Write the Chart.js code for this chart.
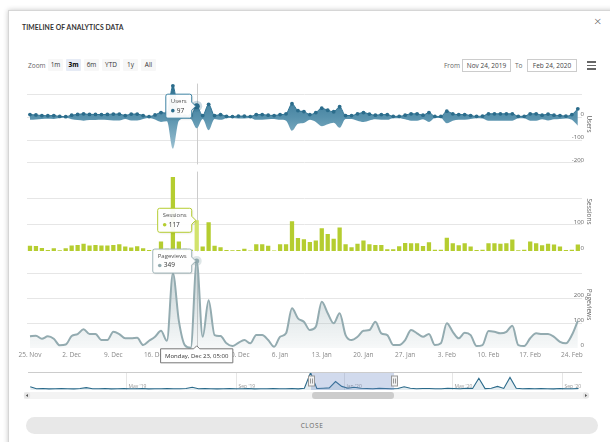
<!DOCTYPE html>
<html><head><meta charset="utf-8">
<script src="https://cdn.jsdelivr.net/npm/chart.js@4.4.1/dist/chart.umd.min.js"></script>
<style>
html,body{margin:0;padding:0;background:#fff;width:610px;height:442px;overflow:hidden;font-family:"Open Sans",Arial,sans-serif;}
#modal{position:absolute;left:8px;top:10px;width:640px;height:470px;border:1px solid #d6d6d6;box-shadow:0 0 5px rgba(0,0,0,0.22);background:#fff;}
.t{position:absolute;white-space:nowrap;}
canvas{position:absolute;}
#title{left:22px;top:23px;font-family:Lato,"Open Sans",sans-serif;font-weight:700;font-size:6.8px;color:#333;letter-spacing:0.1px;}
#xclose{left:594px;top:12px;font-size:13px;color:#555;font-weight:300;}
.lbl{font-size:6.5px;color:#666;top:61px;}
.btn{top:59px;height:12px;line-height:12px;font-size:6.5px;color:#333;background:#f7f7f7;text-align:center;border-radius:1px;}
.btn.sel{background:#e6ebf5;font-weight:700;color:#000;}
.inp{top:59px;height:11px;line-height:11px;font-size:6.5px;color:#444;border:1px solid #ccc;text-align:center;background:#fff;}
.ham{left:587px;width:9px;height:1.5px;background:#666;}
#closebtn{left:26px;top:417px;width:572px;height:17px;line-height:17px;border-radius:9px;background:#e8e8e8;text-align:center;font-size:6.5px;letter-spacing:0.6px;color:#666;}
</style></head>
<body>
<div id="modal"></div>
<div class="t" id="title">TIMELINE OF ANALYTICS DATA</div>
<div class="t" id="xclose">×</div>
<div class="t lbl" style="left:28px;">Zoom</div>
<div class="t btn" style="left:48px;width:15px;">1m</div>
<div class="t btn sel" style="left:66px;width:15px;">3m</div>
<div class="t btn" style="left:84px;width:15px;">6m</div>
<div class="t btn" style="left:102px;width:18px;">YTD</div>
<div class="t btn" style="left:123px;width:15px;">1y</div>
<div class="t btn" style="left:141px;width:15px;">All</div>
<div class="t lbl" style="left:444px;">From</div>
<div class="t inp" style="left:462px;width:47px;">Nov 24, 2019</div>
<div class="t lbl" style="left:515px;">To</div>
<div class="t inp" style="left:527px;width:48px;">Feb 24, 2020</div>
<div class="t ham" style="top:61px;"></div>
<div class="t ham" style="top:64.5px;"></div>
<div class="t ham" style="top:68px;"></div>
<canvas id="cUsers" width="594" height="92" style="left:0;top:78px;width:594px;height:92px;"></canvas>
<canvas id="cSessions" width="594" height="91" style="left:0;top:166px;width:594px;height:91px;"></canvas>
<canvas id="cPage" width="594" height="125" style="left:0;top:240px;width:594px;height:125px;"></canvas>
<canvas id="cNav" width="610" height="32" style="left:0;top:370px;width:610px;height:32px;"></canvas>
<div class="t" id="closebtn">CLOSE</div>
<script>
// ---------------- DATA ----------------
// daily values, day 0 = 25 Nov 2019 ... day 92 = 25 Feb 2020
const users = [23,20,15,13,15,7,5,18,25,30,25,25,23,25,28,28,15,28,28,15,6,20,41,35,275,30,10,15,97,15,113,15,23,8,6,10,10,6,23,23,18,15,23,30,118,58,50,23,41,79,61,48,92,15,15,30,41,28,18,23,23,8,8,18,30,30,18,41,7,7,53,30,23,23,15,8,10,30,30,30,30,30,8,8,30,30,18,28,18,15,10,23,74];
const sessions = [21,20,13,5,12,4,12,22,24,29,22,24,22,22,24,27,18,15,19,12,5,8,37,10,280,37,10,6,117,18,110,21,16,5,4,5,10,3,27,27,21,3,27,27,113,50,46,35,41,87,65,48,90,27,16,29,41,27,24,24,8,8,19,32,31,31,20,34,6,6,51,31,23,31,18,5,6,31,31,29,31,45,4,6,37,31,23,29,26,18,5,6,26];
const pageviews = [48,50,38,48,38,12,15,49,57,76,57,57,33,33,66,57,40,40,42,13,30,46,70,30,300,110,13,2,349,46,192,53,49,20,9,22,33,20,53,53,33,6,46,60,160,120,106,73,86,186,140,100,140,53,33,46,70,73,106,60,53,13,13,33,73,60,46,57,13,20,100,66,40,62,53,9,13,69,66,60,66,90,13,9,40,60,57,57,46,26,20,53,110];
const tickDays = [0,7,14,21,28,35,42,49,56,63,70,77,84,91];
const tickLabels = ['25. Nov','2. Dec','9. Dec','16. Dec','23. Dec','30. Dec','6. Jan','13. Jan','20. Jan','27. Jan','3. Feb','10. Feb','17. Feb','24. Feb'];
const usersTicks = [-200,-100,0,100];
const usersTickLabels = ['-200','-100','0',''];
const sessionsTicks = [0,100,200,300];
const sessionsTickLabels = ['0','100','',''];
const pageviewsTicks = [0,100,200,300];
const pageviewsTickLabels = ['0','100','200',''];
const hoverIndex = 28;
const hoverLabel = 'Monday, Dec 23, 05:00';
// navigator: weekly samples, first sample at day -316
const navStartDay = -316, navStepDays = 7;
const navValues = [55,20,24,18,22,26,20,18,24,40,20,22,26,18,20,24,22,20,26,18,22,20,24,20,22,26,45,20,24,22,18,20,26,22,20,24,18,22,20,26,22,20,24,18,30,290,25,30,35,140,60,30,45,28,25,22,30,24,20,26,55,28,22,24,26,20,22,28,24,20,30,26,195,24,30,60,26,210,28,22,24,20,26,22,18,24,20,22,26];
const navTickDays = [-208,-85,37,158,281];
const navTickLabels = ["May '19","Sep '19","Jan '20","May '20","Sep '20"];
const viewMin = -0.5, viewMax = 92.7;

// ---------------- STYLE ----------------
Chart.defaults.font.family = "'Open Sans', Arial, sans-serif";
Chart.defaults.animation = false;
const GRID = '#e6e6e6';
const USERS_C = '#2b6c8b', SESS_C = '#b5cd30', PV_C = '#93abb0';
const pts = arr => arr.map((v,i)=>({x:i,y:v}));

function callout(ctx, px, py, color, name, value, dotColor){
  ctx.save();
  ctx.font = '6px "Open Sans"';
  const w1 = ctx.measureText(name).width;
  ctx.font = '6.5px "Open Sans"';
  const w2 = ctx.measureText(String(value)).width + 6;
  const w = Math.max(w1, w2) + 10, h = 24, gap = 5, r = 2;
  const x2 = px - gap, x1 = x2 - w, y1 = py - h/2, y2 = py + h/2;
  ctx.beginPath();
  ctx.moveTo(x1+r, y1); ctx.lineTo(x2-r, y1); ctx.quadraticCurveTo(x2, y1, x2, y1+r);
  ctx.lineTo(x2, py-4); ctx.lineTo(px-1, py); ctx.lineTo(x2, py+4);
  ctx.lineTo(x2, y2-r); ctx.quadraticCurveTo(x2, y2, x2-r, y2);
  ctx.lineTo(x1+r, y2); ctx.quadraticCurveTo(x1, y2, x1, y2-r);
  ctx.lineTo(x1, y1+r); ctx.quadraticCurveTo(x1, y1, x1+r, y1);
  ctx.closePath();
  ctx.shadowColor = 'rgba(0,0,0,0.12)'; ctx.shadowOffsetX = 1; ctx.shadowOffsetY = 1; ctx.shadowBlur = 2;
  ctx.fillStyle = 'rgba(255,255,255,0.95)'; ctx.fill();
  ctx.shadowColor = 'transparent';
  ctx.strokeStyle = color; ctx.lineWidth = 1; ctx.stroke();
  ctx.textBaseline = 'middle'; ctx.textAlign = 'left';
  ctx.fillStyle = '#555'; ctx.font = '6px "Open Sans"';
  ctx.fillText(name, x1+5, y1+7.5);
  ctx.beginPath(); ctx.arc(x1+7, y1+16.5, 1.8, 0, Math.PI*2); ctx.fillStyle = dotColor; ctx.fill();
  ctx.fillStyle = '#333'; ctx.font = '6.5px "Open Sans"';
  ctx.fillText(String(value), x1+11, y1+16.5);
  ctx.restore();
}
function crosshair(chart){
  const x = chart.scales.x.getPixelForValue(hoverIndex);
  const ca = chart.chartArea, ctx = chart.ctx;
  ctx.save(); ctx.strokeStyle = '#cccccc'; ctx.lineWidth = 1;
  ctx.beginPath(); ctx.moveTo(Math.round(x)+0.5, ca.top); ctx.lineTo(Math.round(x)+0.5, ca.bottom); ctx.stroke();
  ctx.restore();
}
function yAxis(ticks, labels, title, min, max, hideGrid){
  return {
    type:'linear', position:'right', min:min, max:max,
    afterBuildTicks: a => { a.ticks = ticks.map(v=>({value:v})); },
    afterFit: a => { a.width = 12; },
    grid:{ color: c => (c.tick && hideGrid.includes(c.tick.value)) ? 'rgba(0,0,0,0)' : GRID, drawTicks:false, lineWidth:1 },
    border:{display:false},
    ticks:{ mirror:true, padding:2, labelOffset:-3, color:'#666', font:{size:6}, callback:(v,i)=>labels[i] },
    title:{ display:true, text:title, color:'#666', font:{size:6.5}, padding:{top:1.5, bottom:0} }
  };
}
const hiddenX = { type:'linear', min:viewMin, max:viewMax, display:false, offset:false };

// ---------------- USERS (streamgraph) ----------------
new Chart(document.getElementById('cUsers'), {
  type:'line',
  data:{ datasets:[
    { data: users.map((v,i)=>({x:i,y:-v/2})), borderWidth:0, pointRadius:0, fill:false, cubicInterpolationMode:'monotone' },
    { data: users.map((v,i)=>({x:i,y:v/2})), fill:'-1', cubicInterpolationMode:'monotone',
      borderColor:'#2f7393', borderWidth:1,
      pointRadius: c => c.dataIndex===hoverIndex ? 3 : 1.9, pointBackgroundColor:USERS_C, pointBorderWidth:0,
      backgroundColor: c => { const ch=c.chart, ca=ch.chartArea; if(!ca) return '#5a95b0';
        const g = ch.ctx.createLinearGradient(0, ca.top, 0, ca.bottom);
        g.addColorStop(0,'#2c6d8d'); g.addColorStop(0.42,'#5892ad'); g.addColorStop(1,'#bcd7e3'); return g; } }
  ]},
  options:{ responsive:false, devicePixelRatio:1, events:[],
    layout:{ padding:{left:27, right:0, top:0, bottom:0} },
    plugins:{ legend:{display:false}, tooltip:{enabled:false} },
    scales:{ x: hiddenX, y: yAxis(usersTicks, usersTickLabels, 'Users', -206.5, 147.3, []) }
  },
  plugins:[{ id:'uhover',
    beforeDatasetsDraw: ch => crosshair(ch),
    afterDraw: ch => { const el = ch.getDatasetMeta(1).data[hoverIndex]; const ctx = ch.ctx;
      ctx.save(); ctx.beginPath(); ctx.arc(el.x, el.y, 5.5, 0, Math.PI*2); ctx.fillStyle='rgba(43,108,139,0.25)'; ctx.fill();
      ctx.beginPath(); ctx.arc(el.x, el.y, 2.5, 0, Math.PI*2); ctx.fillStyle=USERS_C; ctx.fill(); ctx.restore();
      callout(ctx, el.x, el.y, '#3f84a4', 'Users', users[hoverIndex], USERS_C); }
  }]
});

// ---------------- SESSIONS (columns) ----------------
new Chart(document.getElementById('cSessions'), {
  type:'bar',
  data:{ datasets:[{ data: pts(sessions), backgroundColor: c => c.dataIndex===hoverIndex ? '#d2e36c' : SESS_C, borderWidth:0, barPercentage:0.92, categoryPercentage:0.78 }]},
  options:{ responsive:false, devicePixelRatio:1, events:[],
    layout:{ padding:{left:27, right:0, top:0, bottom:0} },
    plugins:{ legend:{display:false}, tooltip:{enabled:false} },
    scales:{ x: hiddenX, y: yAxis(sessionsTicks, sessionsTickLabels, 'Sessions', 0, 300, [0,300]) }
  },
  plugins:[{ id:'shover',
    beforeDatasetsDraw: ch => crosshair(ch),
    afterDraw: ch => { const el = ch.getDatasetMeta(0).data[hoverIndex];
      callout(ch.ctx, el.x, el.y, '#b5cd30', 'Sessions', sessions[hoverIndex], SESS_C); }
  }]
});

// ---------------- PAGEVIEWS (spline area) ----------------
new Chart(document.getElementById('cPage'), {
  type:'line',
  data:{ datasets:[{ data: pts(pageviews), cubicInterpolationMode:'monotone', borderColor:PV_C, borderWidth:2,
    pointRadius: c => c.dataIndex===hoverIndex ? 2.5 : 0, pointBackgroundColor:PV_C, pointBorderWidth:0, clip:6,
    fill:'origin',
    backgroundColor: c => { const ch=c.chart, ca=ch.chartArea; if(!ca) return 'rgba(147,171,176,0.2)';
      const g = ch.ctx.createLinearGradient(0, ca.top, 0, ca.bottom);
      g.addColorStop(0,'rgba(147,171,176,0.55)'); g.addColorStop(1,'rgba(147,171,176,0.08)'); return g; } }]},
  options:{ responsive:false, devicePixelRatio:1, events:[],
    layout:{ padding:{left:27, right:0, top:20.8, bottom:0} },
    plugins:{ legend:{display:false}, tooltip:{enabled:false} },
    scales:{
      x:{ type:'linear', min:viewMin, max:viewMax, offset:false,
        afterBuildTicks: a => { a.ticks = tickDays.map(v=>({value:v})); },
        afterFit: a => { a.height = 16.7; },
        grid:{display:false, drawTicks:false}, border:{display:false},
        ticks:{ autoSkip:false, maxRotation:0, padding:3, color:'#888', font:{size:6.5}, callback:(v,i)=>tickLabels[i] } },
      y: yAxis(pageviewsTicks, pageviewsTickLabels, 'Pageviews', 0, 350, [0])
    }
  },
  plugins:[{ id:'phover',
    beforeDatasetsDraw: ch => crosshair(ch),
    afterDraw: ch => { const el = ch.getDatasetMeta(0).data[hoverIndex]; const ctx = ch.ctx;
      ctx.save(); ctx.beginPath(); ctx.arc(el.x, el.y, 5, 0, Math.PI*2); ctx.fillStyle='rgba(147,171,176,0.3)'; ctx.fill(); ctx.restore();
      callout(ctx, el.x, el.y, '#9fb4b8', 'Pageviews', pageviews[hoverIndex], PV_C);
      // x-axis date label
      ctx.save(); ctx.font = '6px "Open Sans"';
      const tw = ctx.measureText(hoverLabel).width + 9, th = 14;
      const bx = el.x - tw/2, by = ch.chartArea.bottom + 0.5;
      ctx.beginPath(); ctx.moveTo(bx, by); ctx.lineTo(el.x-3, by); ctx.lineTo(el.x, by-3); ctx.lineTo(el.x+3, by);
      ctx.lineTo(bx+tw, by); ctx.lineTo(bx+tw, by+th); ctx.lineTo(bx, by+th); ctx.closePath();
      ctx.fillStyle = '#fff'; ctx.fill(); ctx.strokeStyle = '#777'; ctx.lineWidth = 1; ctx.stroke();
      ctx.fillStyle = '#333'; ctx.textAlign = 'center'; ctx.textBaseline = 'middle';
      ctx.fillText(hoverLabel, el.x, by + th/2); ctx.restore(); }
  }]
});

// ---------------- NAVIGATOR ----------------
new Chart(document.getElementById('cNav'), {
  type:'line',
  data:{ datasets:[{ data: navValues.map((v,k)=>({x:navStartDay + k*navStepDays, y:v})), borderColor:'#2a6a8a', borderWidth:1.1,
    pointRadius:0, tension:0, fill:'origin', backgroundColor:'rgba(42,106,138,0.12)' }]},
  options:{ responsive:false, devicePixelRatio:1, events:[],
    layout:{ padding:{left:28, right:28, top:2, bottom:12} },
    plugins:{ legend:{display:false}, tooltip:{enabled:false} },
    scales:{
      x:{ type:'linear', min:-318.5, max:303.9, display:false },
      y:{ min:0, max:300, display:false }
    }
  },
  plugins:[{ id:'nav',
    beforeDatasetsDraw: ch => { const ctx = ch.ctx, ca = ch.chartArea, xs = ch.scales.x;
      ctx.save(); ctx.strokeStyle = '#e6e6e6'; ctx.lineWidth = 1;
      navTickDays.forEach((d,i) => { const x = Math.round(xs.getPixelForValue(d))+0.5;
        ctx.beginPath(); ctx.moveTo(x, ca.top); ctx.lineTo(x, ca.bottom); ctx.stroke();
        ctx.fillStyle = '#999'; ctx.font = '5px "Open Sans"'; ctx.textBaseline = 'bottom'; ctx.textAlign='left';
        ctx.fillText(navTickLabels[i], x+2, ca.bottom - 1); });
      ctx.restore(); },
    afterDraw: ch => { const ctx = ch.ctx, ca = ch.chartArea, xs = ch.scales.x;
      const x1 = xs.getPixelForValue(viewMin), x2 = xs.getPixelForValue(viewMax);
      ctx.save();
      ctx.fillStyle = 'rgba(102,133,194,0.3)'; ctx.fillRect(x1, ca.top, x2-x1, ca.bottom-ca.top);
      ctx.strokeStyle = '#cccccc'; ctx.lineWidth = 1;
      ctx.beginPath(); ctx.moveTo(ca.left, ca.top+0.5); ctx.lineTo(ca.right, ca.top+0.5); ctx.stroke();
      [x1, x2].forEach(x => { const hx = Math.round(x)+0.5, hy = (ca.top+ca.bottom)/2;
        ctx.fillStyle = '#f2f2f2'; ctx.strokeStyle = '#999';
        ctx.fillRect(hx-3, hy-5, 6, 10); ctx.strokeRect(hx-3, hy-5, 6, 10);
        ctx.beginPath(); ctx.moveTo(hx-1, hy-2.5); ctx.lineTo(hx-1, hy+2.5); ctx.moveTo(hx+1, hy-2.5); ctx.lineTo(hx+1, hy+2.5); ctx.stroke(); });
      // scrollbar
      const sy = ca.bottom + 2, sh = 7;
      ctx.fillStyle = '#f3f3f3'; ctx.fillRect(ca.left - 4, sy, ca.right - ca.left + 8, sh);
      ctx.fillStyle = '#cccccc';
      ctx.beginPath(); ctx.roundRect(x1+1, sy, x2-x1-1, sh, 3); ctx.fill();
      [ca.left-1, ca.right+4].forEach((cx, i) => {
        ctx.beginPath(); ctx.arc(cx, sy+sh/2, 3.2, 0, Math.PI*2); ctx.fillStyle = '#e6e6e6'; ctx.fill();
        ctx.fillStyle = '#555'; ctx.beginPath();
        if (i===0){ ctx.moveTo(cx-1.2, sy+sh/2); ctx.lineTo(cx+1, sy+sh/2-1.6); ctx.lineTo(cx+1, sy+sh/2+1.6); }
        else { ctx.moveTo(cx+1.2, sy+sh/2); ctx.lineTo(cx-1, sy+sh/2-1.6); ctx.lineTo(cx-1, sy+sh/2+1.6); }
        ctx.fill(); });
      ctx.restore(); }
  }]
});
</script>
</body></html>
